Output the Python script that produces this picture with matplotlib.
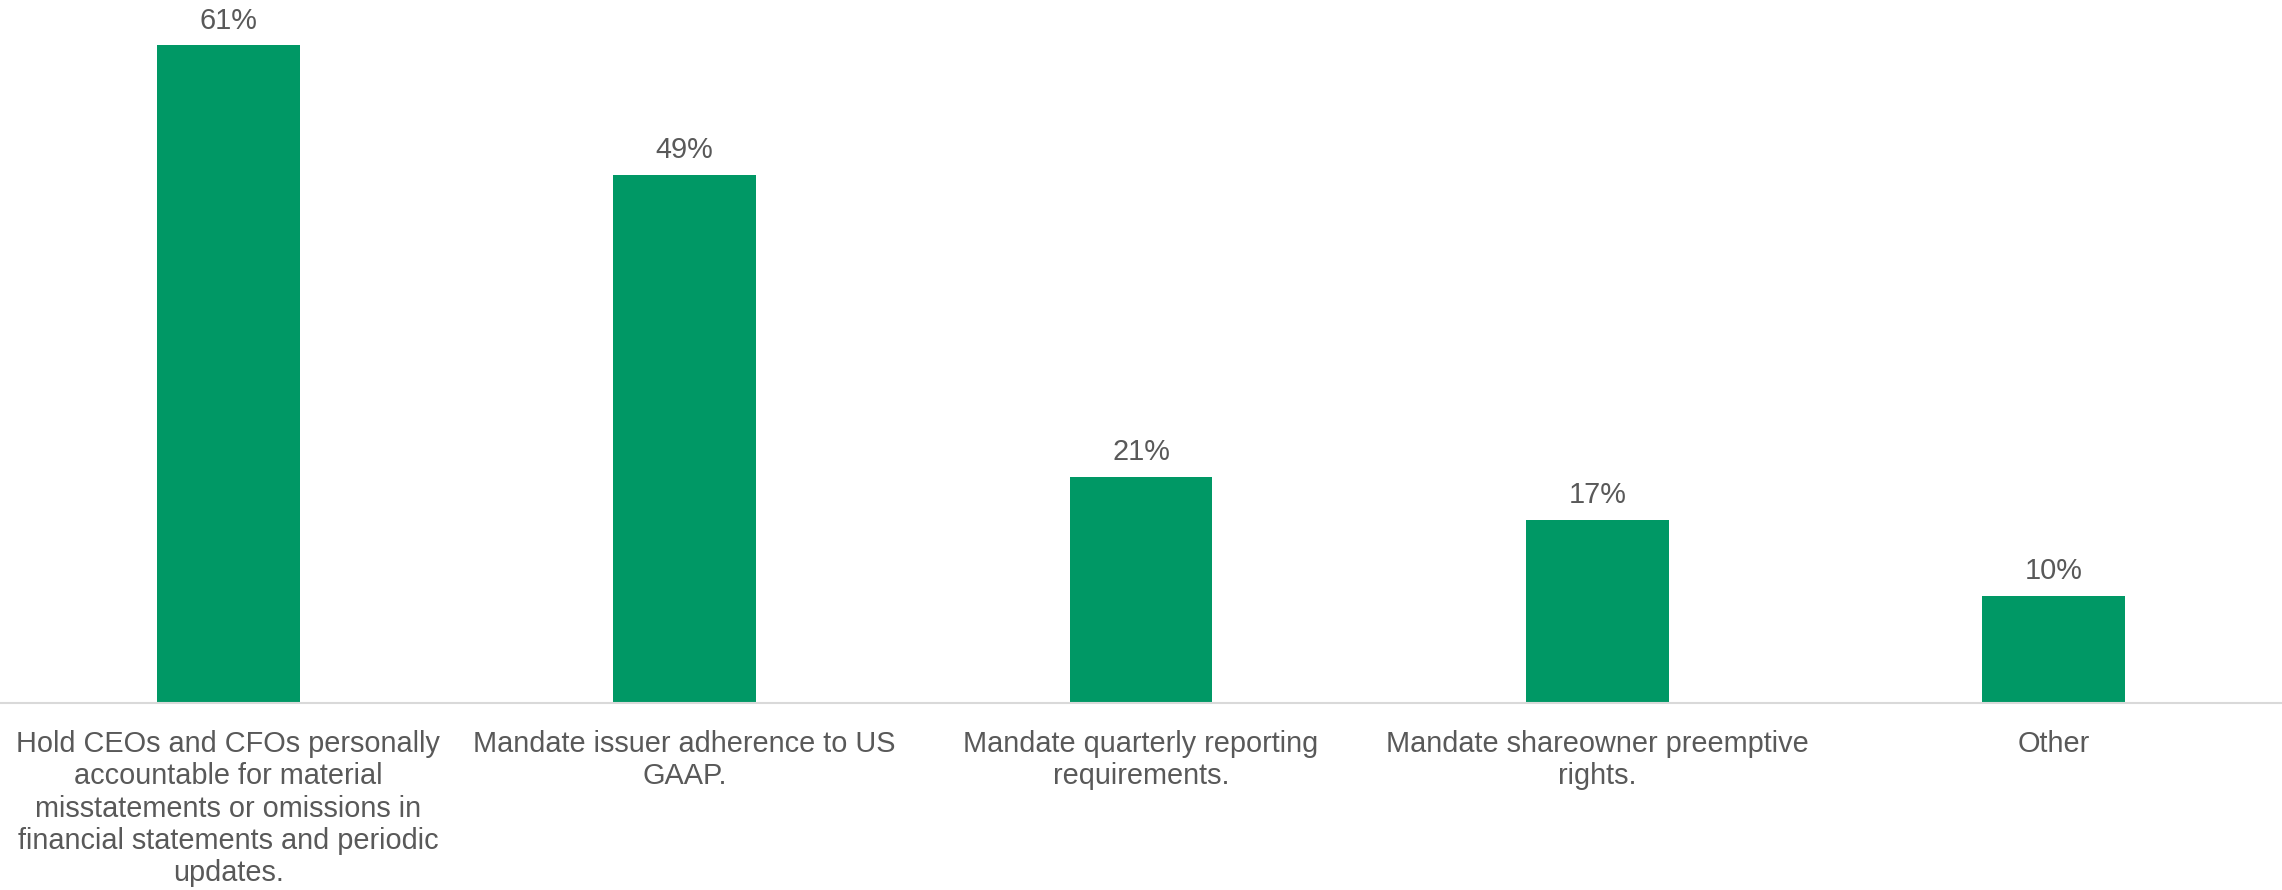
import matplotlib.pyplot as plt

plt.rcParams['font.family'] = ['Liberation Sans', 'DejaVu Sans']

categories = [
    'Hold CEOs and CFOs personally\naccountable for material\nmisstatements or omissions in\nfinancial statements and periodic\nupdates.',
    'Mandate issuer adherence to US\nGAAP.',
    'Mandate quarterly reporting\nrequirements.',
    'Mandate shareowner preemptive\nrights.',
    'Other',
]
values = [61, 49, 21, 17, 10]

bar_color = '#009865'
text_color = '#595959'

fig = plt.figure(figsize=(22.82, 8.9), dpi=100)
ax = fig.add_axes([0, 0.2096, 1, 0.7904])

x = list(range(len(values)))
ax.bar(x, values, width=0.313, color=bar_color)

# percentage above each bar
for xi, v in zip(x, values):
    ax.annotate('{}%'.format(v), (xi, v), xytext=(0, 12), textcoords='offset points',
                ha='center', va='baseline', fontsize=20.8, color=text_color)

ax.set_xlim(-0.5, len(values) - 0.5)
ax.set_ylim(0, 65.2)
ax.set_xticks(x)
ax.set_xticklabels(categories, fontsize=20.8, color=text_color, linespacing=1.2,
                   va='top', ha='center')
ax.tick_params(axis='x', length=0, pad=19)
ax.set_yticks([])

for side in ['top', 'left', 'right']:
    ax.spines[side].set_visible(False)
ax.spines['bottom'].set_color('#D9D9D9')
ax.spines['bottom'].set_linewidth(1.5)

fig.savefig('out.png', dpi=100)
